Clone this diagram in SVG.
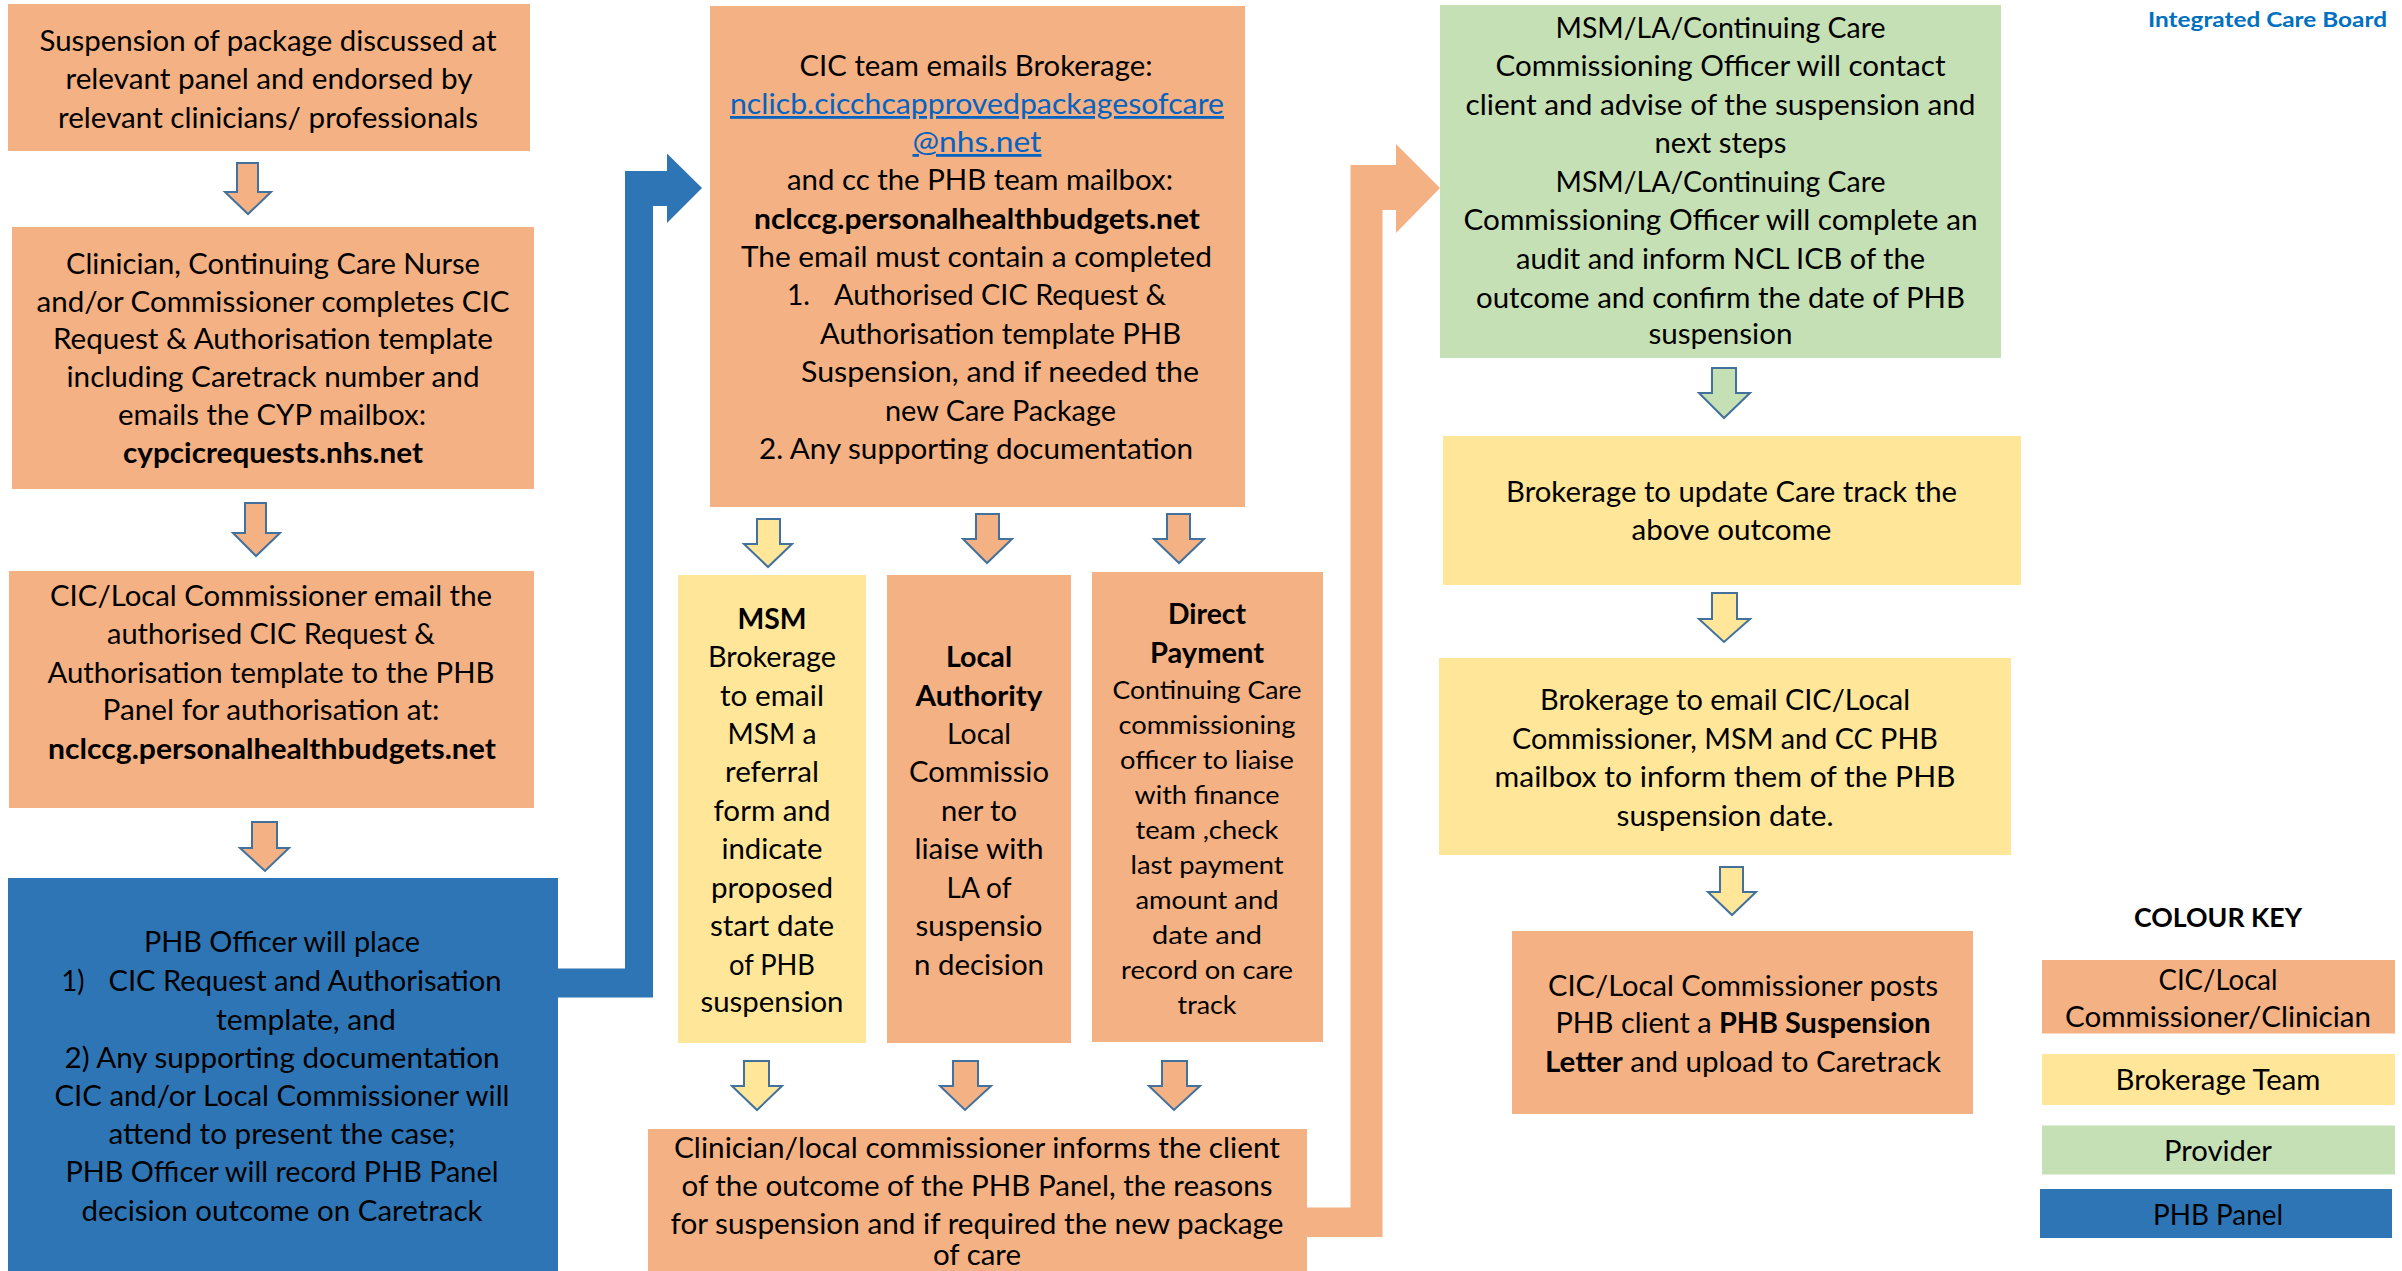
<svg xmlns="http://www.w3.org/2000/svg" width="2402" height="1271" viewBox="0 0 2402 1271">
<style>
.t{font-family:Lato,'Open Sans','Liberation Sans',sans-serif;font-size:28px;fill:#000;text-anchor:middle}
.s{text-anchor:start}
.e{text-anchor:end}
.b{font-weight:700}
.sm{font-size:25.5px}
.lnk{fill:#0563C1;text-decoration:underline}
.or{fill:#F4B183}
.ye{fill:#FFE699}
.gr{fill:#C5E0B4}
.bl{fill:#2E75B6}
.arr{stroke:#41719C;stroke-width:2;stroke-linejoin:miter}
</style>
<rect width="2402" height="1271" fill="#fff"/>

<g id="connectors">
<polygon class="bl" points="558,968.5 625,968.5 625,171 667,171 667,153.5 702,188 667,223 667,206 653,206 653,997.5 558,997.5"/>
<polygon class="or" points="1307,1207.5 1350.5,1207.5 1350.5,165 1396,165 1396,144 1440,188 1396,233 1396,210 1382.5,210 1382.5,1237 1307,1237"/>
<polygon class="or arr" points="237,163 258,163 258,192 271,192 248,214 225,192 237,192"/>
<polygon class="or arr" points="245,503 266,503 266,533 280,533 256,556 233,533 245,533"/>
<polygon class="or arr" points="252,822 277,822 277,848 289,848 265,871 240,848 252,848"/>
<polygon class="ye arr" points="757,519 780,519 780,544 792,544 768,567 744,544 757,544"/>
<polygon class="or arr" points="976,514 999,514 999,539 1012,539 987,563 963,539 976,539"/>
<polygon class="or arr" points="1167,514 1190,514 1190,539 1204,539 1179,563 1154,539 1167,539"/>
<polygon class="ye arr" points="744,1061 769,1061 769,1086 782,1086 757,1110 732,1086 744,1086"/>
<polygon class="or arr" points="953,1061 978,1061 978,1086 991,1086 965,1110 940,1086 953,1086"/>
<polygon class="or arr" points="1162,1061 1187,1061 1187,1086 1200,1086 1174,1110 1149,1086 1162,1086"/>
<polygon class="gr arr" points="1712,368 1736,368 1736,393 1750,393 1724,418 1699,393 1712,393"/>
<polygon class="ye arr" points="1712,593 1737,593 1737,619 1750,619 1724,642 1699,619 1712,619"/>
<polygon class="ye arr" points="1720,867 1743,867 1743,892 1756,892 1732,915 1708,892 1720,892"/>
</g>

<g id="n-suspension">
<rect class="or" x="8" y="4" width="522" height="147"/>
<text class="t" x="268" y="51" textLength="457" lengthAdjust="spacingAndGlyphs">Suspension of package discussed at</text>
<text class="t" x="269" y="89" textLength="407" lengthAdjust="spacingAndGlyphs">relevant panel and endorsed by</text>
<text class="t" x="268" y="128" textLength="420" lengthAdjust="spacingAndGlyphs">relevant clinicians/ professionals</text>
</g>

<g id="n-clinician">
<rect class="or" x="12" y="227" width="522" height="262"/>
<text class="t" x="273" y="274" textLength="414" lengthAdjust="spacingAndGlyphs">Clinician, Continuing Care Nurse</text>
<text class="t" x="273" y="312" textLength="473" lengthAdjust="spacingAndGlyphs">and/or Commissioner completes CIC</text>
<text class="t" x="273" y="349" textLength="440" lengthAdjust="spacingAndGlyphs">Request &amp; Authorisation template</text>
<text class="t" x="273" y="387" textLength="413" lengthAdjust="spacingAndGlyphs">including Caretrack number and</text>
<text class="t" x="272" y="425" textLength="308" lengthAdjust="spacingAndGlyphs">emails the CYP mailbox:</text>
<text class="t b" x="273" y="463" textLength="300" lengthAdjust="spacingAndGlyphs">cypcicrequests.nhs.net</text>
</g>

<g id="n-cic-email">
<rect class="or" x="9" y="571" width="525" height="237"/>
<text class="t" x="271" y="606" textLength="442" lengthAdjust="spacingAndGlyphs">CIC/Local Commissioner email the</text>
<text class="t" x="271" y="644" textLength="328" lengthAdjust="spacingAndGlyphs">authorised CIC Request &amp;</text>
<text class="t" x="271" y="683" textLength="447" lengthAdjust="spacingAndGlyphs">Authorisation template to the PHB</text>
<text class="t" x="271" y="720" textLength="337" lengthAdjust="spacingAndGlyphs">Panel for authorisation at:</text>
<text class="t b" x="272" y="759" textLength="448" lengthAdjust="spacingAndGlyphs">nclccg.personalhealthbudgets.net</text>
</g>

<g id="n-phb-officer">
<rect class="bl" x="8" y="878" width="550" height="400"/>
<text class="t" x="282" y="952" textLength="276" lengthAdjust="spacingAndGlyphs">PHB Officer will place</text>
<text class="t s" x="61.5" y="991" textLength="23" lengthAdjust="spacingAndGlyphs">1)</text>
<text class="t s" x="108.5" y="991" textLength="393" lengthAdjust="spacingAndGlyphs">CIC Request and Authorisation</text>
<text class="t" x="306" y="1030" textLength="180" lengthAdjust="spacingAndGlyphs">template, and</text>
<text class="t" x="282" y="1068" textLength="435" lengthAdjust="spacingAndGlyphs">2) Any supporting documentation</text>
<text class="t" x="282" y="1106" textLength="455" lengthAdjust="spacingAndGlyphs">CIC and/or Local Commissioner will</text>
<text class="t" x="282" y="1144" textLength="347" lengthAdjust="spacingAndGlyphs">attend to present the case;</text>
<text class="t" x="282" y="1182" textLength="433" lengthAdjust="spacingAndGlyphs">PHB Officer will record PHB Panel</text>
<text class="t" x="282" y="1221" textLength="401" lengthAdjust="spacingAndGlyphs">decision outcome on Caretrack</text>
</g>

<g id="n-cic-team">
<rect class="or" x="710" y="6" width="535" height="501"/>
<text class="t" x="976" y="76" textLength="353" lengthAdjust="spacingAndGlyphs">CIC team emails Brokerage:</text>
<text class="t lnk" x="977" y="114" textLength="494" lengthAdjust="spacingAndGlyphs">nclicb.cicchcapprovedpackagesofcare</text>
<text class="t lnk" x="977" y="152" textLength="129" lengthAdjust="spacingAndGlyphs">@nhs.net</text>
<text class="t" x="980" y="190" textLength="386" lengthAdjust="spacingAndGlyphs">and cc the PHB team mailbox:</text>
<text class="t b" x="977" y="229" textLength="446" lengthAdjust="spacingAndGlyphs">nclccg.personalhealthbudgets.net</text>
<text class="t" x="976.5" y="267" textLength="471" lengthAdjust="spacingAndGlyphs">The email must contain a completed</text>
<text class="t s" x="787" y="305" textLength="23" lengthAdjust="spacingAndGlyphs">1.</text>
<text class="t s" x="834" y="305" textLength="332" lengthAdjust="spacingAndGlyphs">Authorised CIC Request &amp;</text>
<text class="t s" x="820" y="344" textLength="361" lengthAdjust="spacingAndGlyphs">Authorisation template PHB</text>
<text class="t s" x="801" y="382" textLength="398" lengthAdjust="spacingAndGlyphs">Suspension, and if needed  the</text>
<text class="t s" x="885" y="421" textLength="231" lengthAdjust="spacingAndGlyphs">new Care Package</text>
<text class="t s" x="759" y="459" textLength="434" lengthAdjust="spacingAndGlyphs">2. Any supporting documentation</text>
</g>

<g id="n-msm">
<rect class="ye" x="678" y="575" width="188" height="468"/>
<text class="t b" x="772" y="629" textLength="69" lengthAdjust="spacingAndGlyphs">MSM</text>
<text class="t" x="772" y="667" textLength="128" lengthAdjust="spacingAndGlyphs">Brokerage</text>
<text class="t" x="772" y="705.5" textLength="104" lengthAdjust="spacingAndGlyphs">to email</text>
<text class="t" x="772" y="744" textLength="89" lengthAdjust="spacingAndGlyphs">MSM a</text>
<text class="t" x="772" y="782" textLength="94" lengthAdjust="spacingAndGlyphs">referral</text>
<text class="t" x="772" y="821" textLength="117" lengthAdjust="spacingAndGlyphs">form and</text>
<text class="t" x="772" y="859" textLength="101" lengthAdjust="spacingAndGlyphs">indicate</text>
<text class="t" x="772" y="898" textLength="122" lengthAdjust="spacingAndGlyphs">proposed</text>
<text class="t" x="772" y="936" textLength="124" lengthAdjust="spacingAndGlyphs">start date</text>
<text class="t" x="772" y="974.5" textLength="86" lengthAdjust="spacingAndGlyphs">of PHB</text>
<text class="t" x="772" y="1012" textLength="143" lengthAdjust="spacingAndGlyphs">suspension</text>
</g>

<g id="n-la">
<rect class="or" x="887" y="575" width="184" height="468"/>
<text class="t b" x="979" y="667" textLength="66" lengthAdjust="spacingAndGlyphs">Local</text>
<text class="t b" x="979" y="705.5" textLength="127" lengthAdjust="spacingAndGlyphs">Authority</text>
<text class="t" x="979" y="744" textLength="64" lengthAdjust="spacingAndGlyphs">Local</text>
<text class="t" x="979" y="782" textLength="140" lengthAdjust="spacingAndGlyphs">Commissio</text>
<text class="t" x="979" y="821" textLength="76" lengthAdjust="spacingAndGlyphs">ner to</text>
<text class="t" x="979" y="859" textLength="129" lengthAdjust="spacingAndGlyphs">liaise with</text>
<text class="t" x="979" y="898" textLength="65" lengthAdjust="spacingAndGlyphs">LA of</text>
<text class="t" x="979" y="936" textLength="127" lengthAdjust="spacingAndGlyphs">suspensio</text>
<text class="t" x="979" y="974.5" textLength="130" lengthAdjust="spacingAndGlyphs">n decision</text>
</g>

<g id="n-direct-payment">
<rect class="or" x="1092" y="572" width="231" height="470"/>
<text class="t b" x="1207" y="624" textLength="78" lengthAdjust="spacingAndGlyphs">Direct</text>
<text class="t b" x="1207" y="662.5" textLength="114" lengthAdjust="spacingAndGlyphs">Payment</text>
<text class="t sm" x="1207" y="698.5" textLength="189" lengthAdjust="spacingAndGlyphs">Continuing Care</text>
<text class="t sm" x="1207" y="733.5" textLength="177" lengthAdjust="spacingAndGlyphs">commissioning</text>
<text class="t sm" x="1207" y="768.5" textLength="174" lengthAdjust="spacingAndGlyphs">officer to liaise</text>
<text class="t sm" x="1207" y="803.5" textLength="145" lengthAdjust="spacingAndGlyphs">with finance</text>
<text class="t sm" x="1207" y="838.5" textLength="143" lengthAdjust="spacingAndGlyphs">team ,check</text>
<text class="t sm" x="1207" y="873.5" textLength="153" lengthAdjust="spacingAndGlyphs">last payment</text>
<text class="t sm" x="1207" y="908.5" textLength="143" lengthAdjust="spacingAndGlyphs">amount and</text>
<text class="t sm" x="1207" y="944" textLength="110" lengthAdjust="spacingAndGlyphs">date  and</text>
<text class="t sm" x="1207" y="979" textLength="172" lengthAdjust="spacingAndGlyphs">record on care</text>
<text class="t sm" x="1207" y="1014" textLength="59" lengthAdjust="spacingAndGlyphs">track</text>
</g>

<g id="n-inform-client">
<rect class="or" x="648" y="1129" width="659" height="160"/>
<text class="t" x="977" y="1158" textLength="606" lengthAdjust="spacingAndGlyphs">Clinician/local commissioner informs the client</text>
<text class="t" x="977" y="1196" textLength="591" lengthAdjust="spacingAndGlyphs">of the outcome of the PHB Panel, the reasons</text>
<text class="t" x="977" y="1234" textLength="613" lengthAdjust="spacingAndGlyphs">for suspension and if required the new package</text>
<text class="t" x="977" y="1265" textLength="88" lengthAdjust="spacingAndGlyphs">of care</text>
</g>

<g id="n-provider-contact">
<rect class="gr" x="1440" y="5" width="561" height="353"/>
<text class="t" x="1720.5" y="37.5" textLength="330" lengthAdjust="spacingAndGlyphs">MSM/LA/Continuing Care</text>
<text class="t" x="1720.5" y="76" textLength="450" lengthAdjust="spacingAndGlyphs">Commissioning Officer will contact</text>
<text class="t" x="1720.5" y="114.5" textLength="510" lengthAdjust="spacingAndGlyphs">client and advise of the suspension and</text>
<text class="t" x="1720.5" y="153" textLength="132" lengthAdjust="spacingAndGlyphs">next steps</text>
<text class="t" x="1720.5" y="191.5" textLength="330" lengthAdjust="spacingAndGlyphs">MSM/LA/Continuing Care</text>
<text class="t" x="1720.5" y="230" textLength="514" lengthAdjust="spacingAndGlyphs">Commissioning Officer will complete an</text>
<text class="t" x="1720.5" y="269" textLength="409" lengthAdjust="spacingAndGlyphs">audit and inform NCL ICB of the</text>
<text class="t" x="1720.5" y="307.5" textLength="489" lengthAdjust="spacingAndGlyphs">outcome and confirm the date of PHB</text>
<text class="t" x="1720.5" y="344" textLength="144" lengthAdjust="spacingAndGlyphs">suspension</text>
</g>

<g id="n-brokerage-update">
<rect class="ye" x="1443" y="436" width="578" height="149"/>
<text class="t" x="1731.5" y="502" textLength="451" lengthAdjust="spacingAndGlyphs">Brokerage to update Care track the</text>
<text class="t" x="1731.5" y="540" textLength="200" lengthAdjust="spacingAndGlyphs">above outcome</text>
</g>

<g id="n-brokerage-email">
<rect class="ye" x="1439" y="658" width="572" height="197"/>
<text class="t" x="1725" y="710" textLength="370" lengthAdjust="spacingAndGlyphs">Brokerage to email CIC/Local</text>
<text class="t" x="1725" y="749" textLength="426" lengthAdjust="spacingAndGlyphs">Commissioner, MSM and CC PHB</text>
<text class="t" x="1725" y="787" textLength="461" lengthAdjust="spacingAndGlyphs">mailbox to inform them of the  PHB</text>
<text class="t" x="1725" y="825.5" textLength="217" lengthAdjust="spacingAndGlyphs">suspension date.</text>
</g>

<g id="n-posts-letter">
<rect class="or" x="1512" y="931" width="461" height="183"/>
<text class="t" x="1743" y="996" textLength="390" lengthAdjust="spacingAndGlyphs">CIC/Local Commissioner posts</text>
<text class="t" x="1743" y="1033" textLength="375" lengthAdjust="spacingAndGlyphs">PHB client a <tspan class="b">PHB Suspension</tspan></text>
<text class="t" x="1743" y="1071.5" textLength="396" lengthAdjust="spacingAndGlyphs"><tspan class="b">Letter</tspan> and upload to Caretrack</text>
</g>

<g id="header">
<text class="t e b" x="2387" y="27" style="font-size:21px;fill:#0070C0" textLength="239" lengthAdjust="spacingAndGlyphs">Integrated Care Board</text>
</g>

<g id="colour-key">
<text class="t b" x="2218" y="927" style="font-size:26px" textLength="168" lengthAdjust="spacingAndGlyphs">COLOUR KEY</text>
<rect class="or" x="2042" y="960" width="353" height="73.5"/>
<text class="t" x="2218" y="989.5" textLength="119" lengthAdjust="spacingAndGlyphs">CIC/Local</text>
<text class="t" x="2218" y="1026.5" textLength="306" lengthAdjust="spacingAndGlyphs">Commissioner/Clinician</text>
<rect class="ye" x="2042" y="1054" width="353" height="51"/>
<text class="t" x="2218" y="1090" textLength="205" lengthAdjust="spacingAndGlyphs">Brokerage Team</text>
<rect class="gr" x="2042" y="1125.5" width="353" height="49"/>
<text class="t" x="2218" y="1160.5" textLength="108" lengthAdjust="spacingAndGlyphs">Provider</text>
<rect class="bl" x="2040" y="1189" width="352" height="49"/>
<text class="t" x="2218" y="1224.5" textLength="130" lengthAdjust="spacingAndGlyphs">PHB Panel</text>
</g>
</svg>
